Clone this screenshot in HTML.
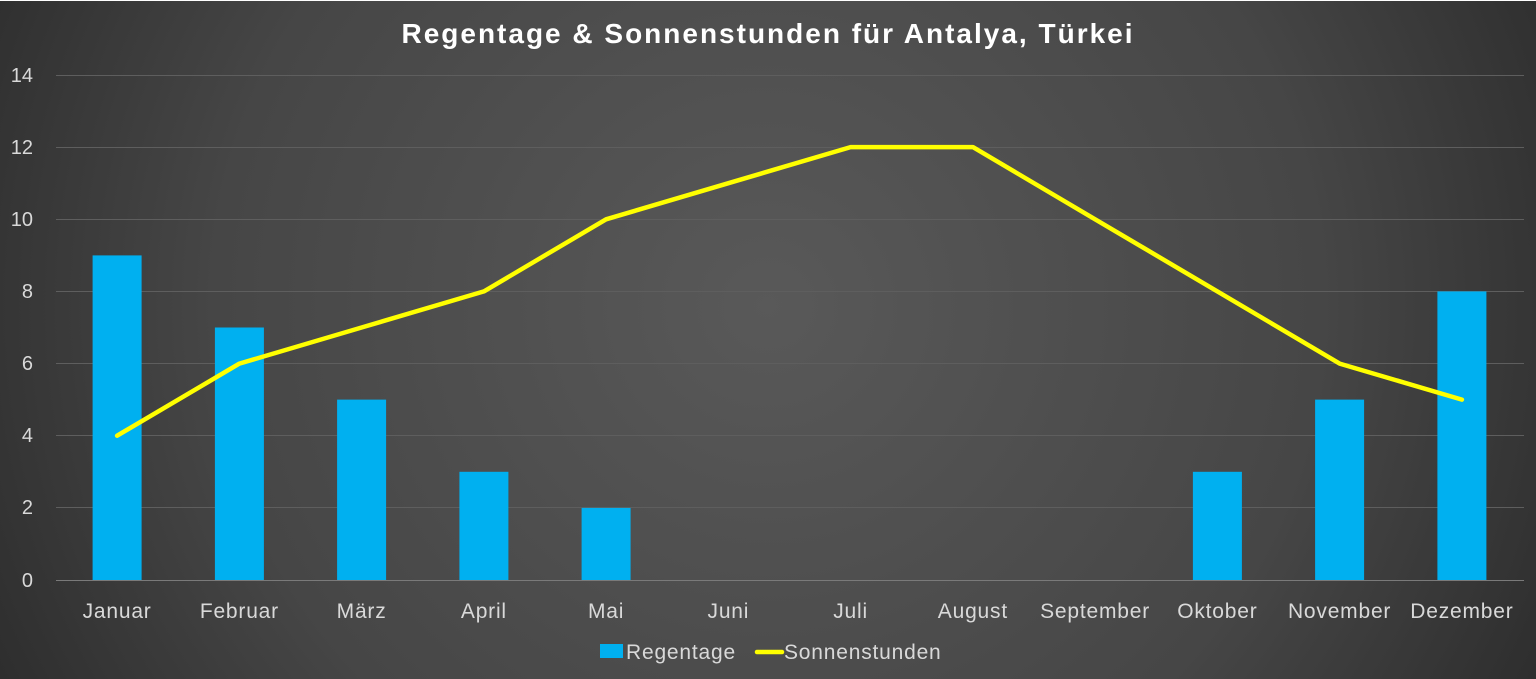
<!DOCTYPE html>
<html><head><meta charset="utf-8"><style>
html,body{margin:0;padding:0;background:#2b2b2b;}
svg{display:block;font-family:"Liberation Sans",sans-serif;}
</style></head><body>
<svg width="1536" height="679" viewBox="0 0 1536 679" xmlns="http://www.w3.org/2000/svg">
<defs>
<radialGradient id="bg" cx="0.5" cy="0.45" r="0.6" gradientTransform="translate(0.5 0.45) scale(1 2.2) translate(-0.5 -0.45)">
<stop offset="0" stop-color="#595959"/>
<stop offset="0.6" stop-color="#464646"/>
<stop offset="1" stop-color="#292929"/>
</radialGradient>
</defs>
<rect width="1536" height="679" fill="url(#bg)"/>
<rect width="1536" height="1" fill="#ffffff"/>
<text x="768" y="43" text-anchor="middle" fill="#ffffff" font-size="28" font-weight="bold" letter-spacing="2">Regentage &amp; Sonnenstunden für Antalya, Türkei</text>
<g stroke="#5e5e5e" stroke-width="1">
<line x1="56" x2="1524" y1="75.5" y2="75.5"/>
<line x1="56" x2="1524" y1="147.5" y2="147.5"/>
<line x1="56" x2="1524" y1="219.5" y2="219.5"/>
<line x1="56" x2="1524" y1="291.5" y2="291.5"/>
<line x1="56" x2="1524" y1="363.5" y2="363.5"/>
<line x1="56" x2="1524" y1="435.5" y2="435.5"/>
<line x1="56" x2="1524" y1="507.5" y2="507.5"/>
</g>
<line x1="56" x2="1524" y1="580.5" y2="580.5" stroke="#7a7a7a"/>
<g fill="#d9d9d9" font-size="20" text-anchor="end">
<text x="33" y="82">14</text><text x="33" y="154">12</text><text x="33" y="226">10</text>
<text x="33" y="298">8</text><text x="33" y="370">6</text><text x="33" y="442">4</text>
<text x="33" y="514">2</text><text x="33" y="587">0</text>
</g>
<g fill="#00b0f0">
<rect x="92.6" y="255.4" width="49" height="324.6"/>
<rect x="214.9" y="327.5" width="49" height="252.5"/>
<rect x="337.1" y="399.6" width="49" height="180.4"/>
<rect x="459.4" y="471.8" width="49" height="108.2"/>
<rect x="581.6" y="507.9" width="49" height="72.1"/>
<rect x="1192.9" y="471.8" width="49" height="108.2"/>
<rect x="1315.1" y="399.6" width="49" height="180.4"/>
<rect x="1437.4" y="291.4" width="49" height="288.6"/>
</g>
<polyline fill="none" stroke="#ffff00" stroke-width="4.5" stroke-linejoin="round" stroke-linecap="round"
points="117.1,435.7 239.4,363.6 361.6,327.5 483.9,291.4 606.1,219.3 728.4,183.2 850.6,147.1 972.9,147.1 1095.1,219.3 1217.4,291.4 1339.6,363.6 1461.9,399.6"/>
<g fill="#d9d9d9" font-size="21" letter-spacing="0.8" text-anchor="middle">
<text x="117.1" y="618">Januar</text><text x="239.4" y="618">Februar</text><text x="361.6" y="618">März</text>
<text x="483.9" y="618">April</text><text x="606.1" y="618">Mai</text><text x="728.4" y="618">Juni</text>
<text x="850.6" y="618">Juli</text><text x="972.9" y="618">August</text><text x="1095.1" y="618">September</text>
<text x="1217.4" y="618">Oktober</text><text x="1339.6" y="618">November</text><text x="1461.9" y="618">Dezember</text>
</g>
<rect x="600" y="644" width="23" height="14" fill="#00b0f0"/>
<text x="626" y="659" fill="#d9d9d9" font-size="21" letter-spacing="0.8">Regentage</text>
<line x1="757" x2="782" y1="652" y2="652" stroke="#ffff00" stroke-width="4.5" stroke-linecap="round"/>
<text x="784" y="659" fill="#d9d9d9" font-size="21" letter-spacing="0.8">Sonnenstunden</text>
</svg>
</body></html>
